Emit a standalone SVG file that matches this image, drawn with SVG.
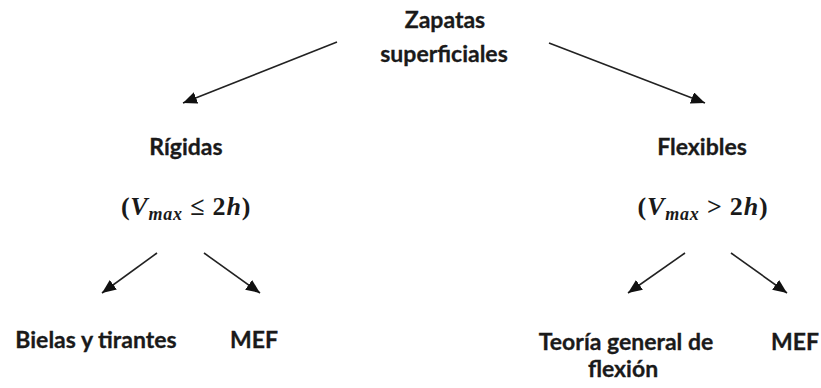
<svg xmlns="http://www.w3.org/2000/svg" width="821" height="388" viewBox="0 0 821 388">
<style>
.t{font-family:Lato,"Open Sans","Liberation Sans",sans-serif;font-weight:bold;font-size:23px;fill:#1a1a1a;stroke:#1a1a1a;stroke-width:0.3;text-anchor:middle}
.m{font-family:"Liberation Serif","DejaVu Serif",serif;font-weight:bold;font-size:26px;letter-spacing:0.8px;fill:#1a1a1a;text-anchor:middle}
.c{stroke:#222;stroke-width:1.6;fill:none;marker-end:url(#ah)}
</style>
<defs>
<marker id="ah" markerUnits="userSpaceOnUse" markerWidth="16" markerHeight="14" refX="14" refY="6" orient="auto">
<path d="M0,0 L14,6 L0,12 Z" fill="#111"/>
</marker>
</defs>
<g id="connectors">
<line class="c" x1="337" y1="42" x2="183" y2="103"/>
<line class="c" x1="549" y1="43" x2="705" y2="103"/>
<line class="c" x1="157" y1="253" x2="102" y2="293"/>
<line class="c" x1="204" y1="253" x2="260" y2="293"/>
<line class="c" x1="685" y1="253" x2="628" y2="293"/>
<line class="c" x1="731" y1="253" x2="787" y2="293"/>
</g>
<g id="root"><text class="t" x="445" y="28">Zapatas</text><text class="t" x="444" y="62">superficiales</text></g>
<g id="rigidas"><text class="t" x="186" y="155">Rígidas</text>
<text class="m" x="186" y="215">(<tspan font-style="italic">V</tspan><tspan font-style="italic" font-size="18" dy="5">max</tspan><tspan dy="-5"> ≤ 2</tspan><tspan font-style="italic">h</tspan>)</text></g>
<g id="flexibles"><text class="t" x="702" y="155">Flexibles</text>
<text class="m" x="703" y="215">(<tspan font-style="italic">V</tspan><tspan font-style="italic" font-size="18" dy="5">max</tspan><tspan dy="-5"> &gt; 2</tspan><tspan font-style="italic">h</tspan>)</text></g>
<g id="bielas"><text class="t" x="96" y="348">Bielas y tirantes</text></g>
<g id="mef1"><text class="t" x="254" y="348">MEF</text></g>
<g id="teoria"><text class="t" x="626" y="350">Teoría general de</text><text class="t" x="623" y="377">flexión</text></g>
<g id="mef2"><text class="t" x="795" y="350">MEF</text></g>
</svg>
